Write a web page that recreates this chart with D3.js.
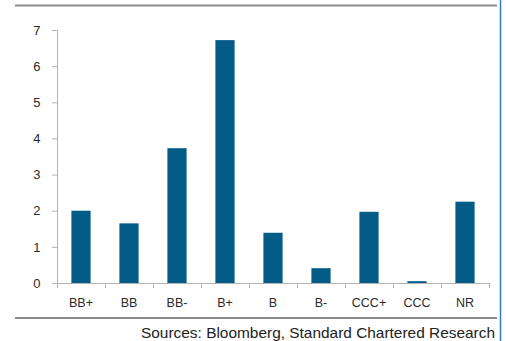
<!DOCTYPE html>
<html>
<head>
<meta charset="utf-8">
<script src="https://cdn.jsdelivr.net/npm/d3@7"></script>
<style>
  html, body { margin: 0; padding: 0; background: #fff; }
  svg { display: block; font-family: "Liberation Sans", Arial, sans-serif; }
</style>
</head>
<body>
<svg id="chart" width="506" height="341"></svg>
<script>
// Rating buckets and their values
const categories = ["BB+", "BB", "BB-", "B+", "B", "B-", "CCC+", "CCC", "NR"];
const values = [2.0, 1.65, 3.73, 6.72, 1.39, 0.41, 1.97, 0.05, 2.25];
const yTicks = [0, 1, 2, 3, 4, 5, 6, 7];
const sourceText = "Sources: Bloomberg, Standard Chartered Research";

const svg = d3.select("#chart");

const plot = { left: 57, right: 489, top: 30, bottom: 283 };

const x = d3.scaleBand()
  .domain(categories)
  .range([plot.left, plot.right])
  .paddingInner(0.6)
  .paddingOuter(0.3);

const y = d3.scaleLinear()
  .domain([0, 7])
  .range([plot.bottom, plot.top]);

// Frame rules above and below the chart
svg.append("line")
  .attr("x1", 15).attr("x2", 497)
  .attr("y1", 5.5).attr("y2", 5.5)
  .attr("stroke", "#8c8c8c").attr("stroke-width", 2);

svg.append("line")
  .attr("x1", 15).attr("x2", 497)
  .attr("y1", 318).attr("y2", 318)
  .attr("stroke", "#8c8c8c").attr("stroke-width", 2);

// Blue page margin on the right
svg.append("line")
  .attr("x1", 500.5).attr("x2", 500.5)
  .attr("y1", 0).attr("y2", 341)
  .attr("stroke", "#2a7fd0").attr("stroke-width", 1.5);

// Bars
svg.append("g")
  .selectAll("rect")
  .data(categories.map((c, i) => ({ c, v: values[i] })))
  .join("rect")
  .attr("x", d => x(d.c))
  .attr("width", x.bandwidth())
  .attr("y", d => y(d.v))
  .attr("height", d => y(0) - y(d.v))
  .attr("fill", "#035b88");

// Y axis
const yAxis = svg.append("g")
  .attr("transform", `translate(${plot.left},0)`)
  .call(d3.axisLeft(y).tickValues(yTicks).tickFormat(d3.format("d")).tickSize(5).tickSizeOuter(5).tickPadding(11.5));

// X axis with ticks at band boundaries
const xAxis = svg.append("g")
  .attr("transform", `translate(0,${plot.bottom})`);
xAxis.append("line")
  .attr("x1", plot.left).attr("x2", plot.right)
  .attr("y1", 0.5).attr("y2", 0.5)
  .attr("stroke", "#b3b3b3");
const step = (plot.right - plot.left) / categories.length;
xAxis.selectAll(".tk")
  .data(d3.range(categories.length + 1))
  .join("line")
  .attr("class", "tk")
  .attr("x1", i => Math.round(plot.left + i * step) + 0.5)
  .attr("x2", i => Math.round(plot.left + i * step) + 0.5)
  .attr("y1", 0).attr("y2", 5)
  .attr("stroke", "#b3b3b3");
xAxis.selectAll(".lbl")
  .data(categories)
  .join("text")
  .attr("class", "lbl")
  .attr("x", d => x(d) + x.bandwidth() / 2)
  .attr("y", 24)
  .attr("text-anchor", "middle")
  .attr("font-size", 12.5)
  .attr("fill", "#2a2a2a")
  .text(d => d);

yAxis.select(".domain").attr("stroke", "#b3b3b3");
yAxis.selectAll(".tick line").attr("stroke", "#b3b3b3");
yAxis.selectAll(".tick text")
  .attr("font-size", 13)
  .attr("fill", "#2a2a2a")
  .attr("font-family", "Liberation Sans, Arial, sans-serif");

// Source note
svg.append("text")
  .attr("x", 495)
  .attr("y", 337.5)
  .attr("text-anchor", "end")
  .attr("font-size", 14.5)
  .attr("textLength", 354)
  .attr("lengthAdjust", "spacingAndGlyphs")
  .attr("fill", "#222")
  .text(sourceText);
</script>
</body>
</html>
